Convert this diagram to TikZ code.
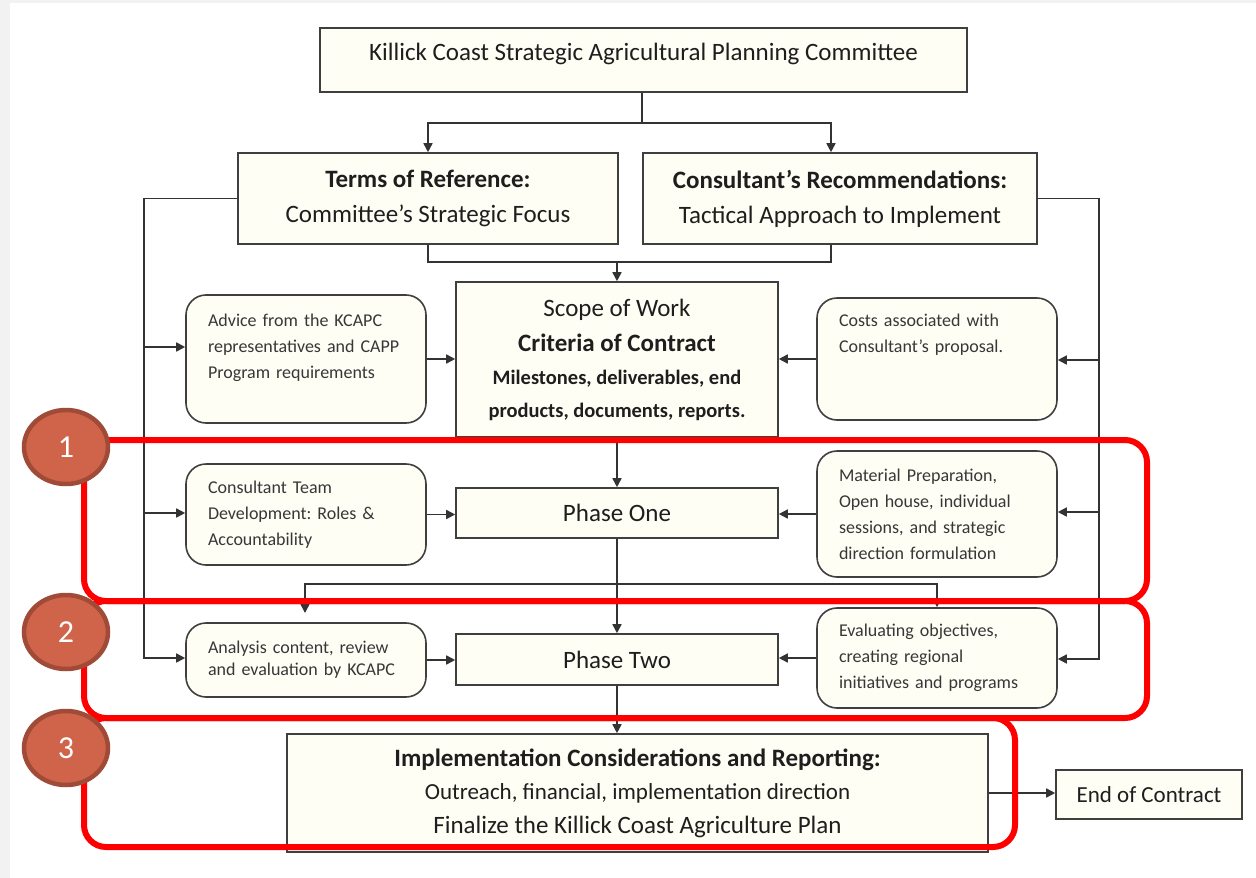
\documentclass[tikz,border=0pt]{standalone}
\usepackage{fontspec}
\setmainfont{Carlito}
\usetikzlibrary{arrows.meta,shapes.geometric,calc}
\definecolor{boxfill}{RGB}{254,254,245}
\definecolor{boxline}{RGB}{63,63,63}
\definecolor{connc}{RGB}{51,51,51}
\definecolor{txt}{RGB}{30,30,30}
\definecolor{stxt}{RGB}{55,55,55}
\definecolor{badgefill}{RGB}{208,100,75}
\definecolor{badgeline}{RGB}{160,74,56}
\definecolor{frred}{RGB}{255,0,0}
\begin{document}
\begin{tikzpicture}[x=1pt,y=-1pt,
  box/.style={draw=boxline, line width=1.6pt, fill=boxfill, inner sep=0pt, align=center, text=txt, font=\frenchspacing\fontsize{25}{35}\selectfont},
  rbox/.style={box, rounded corners=20pt, align=left, text=stxt, font=\frenchspacing\fontsize{18}{26}\selectfont, inner xsep=22pt, minimum width=240pt, text width=196pt},
  conn/.style={line width=1.6pt, draw=connc},
  arr/.style={conn, -{Triangle[length=9pt,width=9pt]}},
  redframe/.style={draw=frred, line width=6pt, rounded corners=22pt},
  badge/.style={ellipse, draw=badgeline, fill=badgefill, line width=4.5pt, minimum width=84pt, minimum height=74pt, inner sep=0pt, text=white, font=\fontsize{32}{34}\selectfont}
]
\useasboundingbox (0,0) rectangle (1256,878);
\fill[gray!10] (0,0) rectangle (1256,878);
\fill[white] (10,3) rectangle (1256,878);

% boxes
\node[box, minimum width=647pt, minimum height=64pt, text height=12pt, text depth=12pt] (top) at (643.5,60) {Killick Coast Strategic Agricultural Planning Committee};
\node[box, minimum width=380pt, minimum height=91pt] (terms) at (428,198.5) {{\bfseries Terms of Reference:}\\Committee’s Strategic Focus};
\node[box, minimum width=394pt, minimum height=91pt] (cons) at (840,198.5) {{\bfseries Consultant’s Recommendations:}\\Tactical Approach to Implement};
\node[box, minimum width=322pt, minimum height=155pt, font=\frenchspacing\fontsize{25}{33}\selectfont] (scope) at (617,359.5) {Scope of Work\\[2pt]{\bfseries Criteria of Contract}\\{\bfseries\fontsize{20.5}{33}\selectfont Milestones, deliverables, end}\\{\bfseries\fontsize{20.5}{33}\selectfont products, documents, reports.}};
\node[rbox, minimum height=128pt] (advice) at (306,359) {Advice from the KCAPC\\representatives and CAPP\\Program requirements\\\mbox{}};
\node[rbox, minimum height=122pt] (costs) at (937,359) {Costs associated with\\Consultant’s proposal.\\\mbox{}\\\mbox{}};
\node[box, minimum width=322pt, minimum height=50pt] (p1) at (617,513) {Phase One};
\node[rbox, minimum height=101pt] (team) at (306,514.5) {Consultant Team\\Development: Roles \&\\Accountability};
\node[rbox, minimum height=126pt] (mat) at (937,514) {Material Preparation,\\Open house, individual\\sessions, and strategic\\direction formulation};
\node[box, minimum width=322pt, minimum height=51pt] (p2) at (617,659.5) {Phase Two};
\node[rbox, minimum height=74pt, font=\frenchspacing\fontsize{18}{22}\selectfont] (anal) at (306,660) {Analysis content, review\\and evaluation by KCAPC};
\node[rbox, minimum height=100pt] (eval) at (937,658) {Evaluating objectives,\\creating regional\\initiatives and programs};
\node[box, minimum width=701pt, minimum height=118pt, font=\frenchspacing\fontsize{23}{33.5}\selectfont] (impl) at (637.5,793) {{\bfseries\fontsize{25}{33.5}\selectfont Implementation Considerations and Reporting:}\\Outreach, financial, implementation direction\\{\fontsize{25}{33.5}\selectfont Finalize the Killick Coast Agriculture Plan}};
\node[box, minimum width=186pt, minimum height=49pt, font=\frenchspacing\fontsize{23}{30}\selectfont] (endc) at (1149,794.5) {End of Contract};

% connectors
\coordinate (j1) at (642,123);
\draw[conn] (top.south -| j1) -- (j1);
\draw[arr] (j1) -| (terms.north);
\draw[arr] (j1) -| ([xshift=-9pt]cons.north);
\coordinate (j2) at (617,262);
\draw[conn] (terms.south) |- (j2);
\draw[conn] ([xshift=-9pt]cons.south) |- (j2);
\draw[arr] (j2) -- (scope.north);
% left bus
\coordinate (lb) at (144,658);
\draw[arr] (terms.west) -| (lb) -- (lb -| anal.west);
\coordinate (la) at (144,347);
\draw[arr] (la) -- (la -| advice.west);
\coordinate (lt) at (144,513);
\draw[arr] (lt) -- (lt -| team.west);
% right bus
\coordinate (rb) at (1099,659);
\draw[arr] (cons.east) -| (rb) -- (rb -| eval.east);
\coordinate (rc) at (1099,360);
\draw[arr] (rc) -- (rc -| costs.east);
\coordinate (rm) at (1099,512);
\draw[arr] (rm) -- (rm -| mat.east);
% into scope
\draw[arr] (advice.east) -- (advice.east -| scope.west);
\draw[arr] (costs.west) -- (costs.west -| scope.east);
% phase one
\draw[arr] (scope.south) -- (p1.north);
\draw[arr] (team.east) -- (team.east -| p1.west);
\draw[arr] (mat.west) -- (mat.west -| p1.east);
% phase two
\draw[arr] (p1.south) -- (p2.north);
\coordinate (j3) at (617,584);
\coordinate (a1) at (305,613);
\draw[arr] (j3) -| (a1);
\draw[arr] (j3) -| (eval.north);
\draw[arr] (anal.east) -- (anal.east -| p2.west);
\draw[arr] (eval.west) -- (eval.west -| p2.east);
% implementation
\draw[arr] (p2.south) -- (p2.south |- impl.north);
\draw[arr] (impl.east) -- (impl.east -| endc.west);

% red frames
\draw[redframe] (84,440) rectangle (1147,601);
\draw[redframe] (84,601) rectangle (1147,718);
\draw[redframe] (84,718) rectangle (1015,847);

% badges
\node[badge] (b1) at (66,447) {1};
\node[badge] (b2) at (66,632) {2};
\node[badge] (b3) at (66,748) {3};
\end{tikzpicture}
\end{document}
